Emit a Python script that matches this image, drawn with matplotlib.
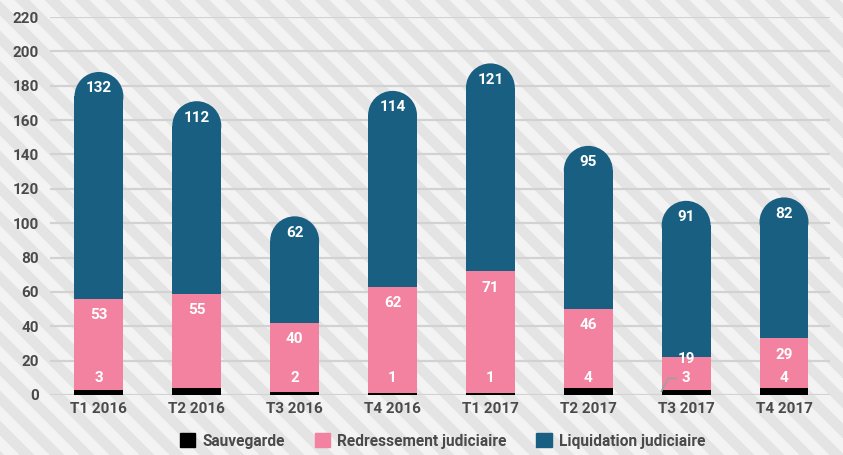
#!/usr/bin/env python3
"""
Stacked quarterly bars (sauvegarde / redressement / liquidation) with
rounded tops on a striped background.
"""

import matplotlib.pyplot as plt
import matplotlib.patches as mpatches
import numpy as np

quarters = ["T1 2016", "T2 2016", "T3 2016", "T4 2016",
            "T1 2017", "T2 2017", "T3 2017", "T4 2017"]
sauvegarde = [3, 4, 2, 1, 1, 4, 3, 4]
sauvegarde_labels = ["3", "", "2", "1", "1", "4", "3", "4"]
redressement = [53, 55, 40, 62, 71, 46, 19, 29]
liquidation = [132, 112, 62, 114, 121, 95, 91, 82]
yticks = list(range(0, 221, 20))

C_SAUV = "#000000"
C_RED = "#f2829f"
C_LIQ = "#195f82"
C_TEXT = "#4a4a4a"
FONT = ["Roboto", "DejaVu Sans"]

plt.rcParams["font.family"] = FONT

W, H = 843, 455
fig = plt.figure(figsize=(W / 100, H / 100), dpi=100)

# striped background
bg = fig.add_axes([0, 0, 1, 1], zorder=-10)
yy, xx = np.mgrid[0:H, 0:W]
period = 30
stripes = ((xx - yy) % period) < period / 2
img = np.where(stripes[..., None], np.array([0.955, 0.955, 0.955]), np.array([0.895, 0.895, 0.895]))
bg.imshow(img, aspect="auto", interpolation="nearest")
bg.axis("off")

ax = fig.add_axes([50 / W, 60 / H, 780 / W, 378 / H])
ax.patch.set_alpha(0)
ax.set_xlim(-0.5, 7.47)
ax.set_ylim(0, 220)
for s in ax.spines.values():
    s.set_visible(False)
ax.set_yticks(yticks)
ax.set_xticks(range(len(quarters)))
ax.set_xticklabels(quarters)
ax.tick_params(length=0, labelsize=11, labelcolor=C_TEXT, pad=5)
ax.tick_params(axis="y", pad=8)
for lab in ax.get_xticklabels() + ax.get_yticklabels():
    lab.set_fontweight("bold")
ax.grid(axis="y", color="#d2d2d2", linewidth=1.6, zorder=0)
ax.set_axisbelow(True)

# radius of the rounded top, in y data units, so the cap is circular on screen
width = 0.5
px_x = 780 / (7.47 + 0.5)
px_y = 378 / 220
r_y = (width / 2 * px_x) / px_y

x = np.arange(len(quarters))
sv = np.array(sauvegarde)
rd = np.array(redressement)
lq = np.array(liquidation)

ax.bar(x, sv, width, color=C_SAUV, zorder=3)
ax.bar(x, rd, width, bottom=sv, color=C_RED, zorder=3)
ax.bar(x, lq - r_y, width, bottom=sv + rd, color=C_LIQ, zorder=3)
for i in x:
    top = sv[i] + rd[i] + lq[i]
    ax.add_patch(mpatches.Ellipse((i, top - r_y), width, 2 * r_y, color=C_LIQ, zorder=3, linewidth=0))

lbl = dict(color="white", fontsize=11, fontweight="bold", ha="center", va="center", zorder=5)
for i in x:
    top = sv[i] + rd[i] + lq[i]
    ax.text(i, top - 9.5, str(lq[i]), **lbl)
    red_top = sv[i] + rd[i]
    ax.text(i, red_top - 9.5 if rd[i] > 25 else red_top - 1, str(rd[i]), **lbl)
    if sauvegarde_labels[i]:
        ax.text(i, 10, sauvegarde_labels[i], **lbl)

# small leader line for T3 2017 sauvegarde
k = 6
ax.plot([k - 0.095, k - 0.184, k - 0.255], [9.6, 9.6, 1.8], color="#a0a0a0", lw=1.3, zorder=6,
        solid_capstyle="butt")

handles = [
    mpatches.Patch(color=C_SAUV, label="Sauvegarde"),
    mpatches.Patch(color=C_RED, label="Redressement judiciaire"),
    mpatches.Patch(color=C_LIQ, label="Liquidation judiciaire"),
]
leg = fig.legend(handles=handles, loc="center", bbox_to_anchor=(0.525, 0.031), ncol=3, frameon=False,
                 handlelength=1.0, handleheight=1.0, handletextpad=0.45, columnspacing=1.9,
                 prop={"family": FONT, "weight": "bold", "size": 11.2})
for t in leg.get_texts():
    t.set_color(C_TEXT)

fig.savefig("out.png", dpi=100)
